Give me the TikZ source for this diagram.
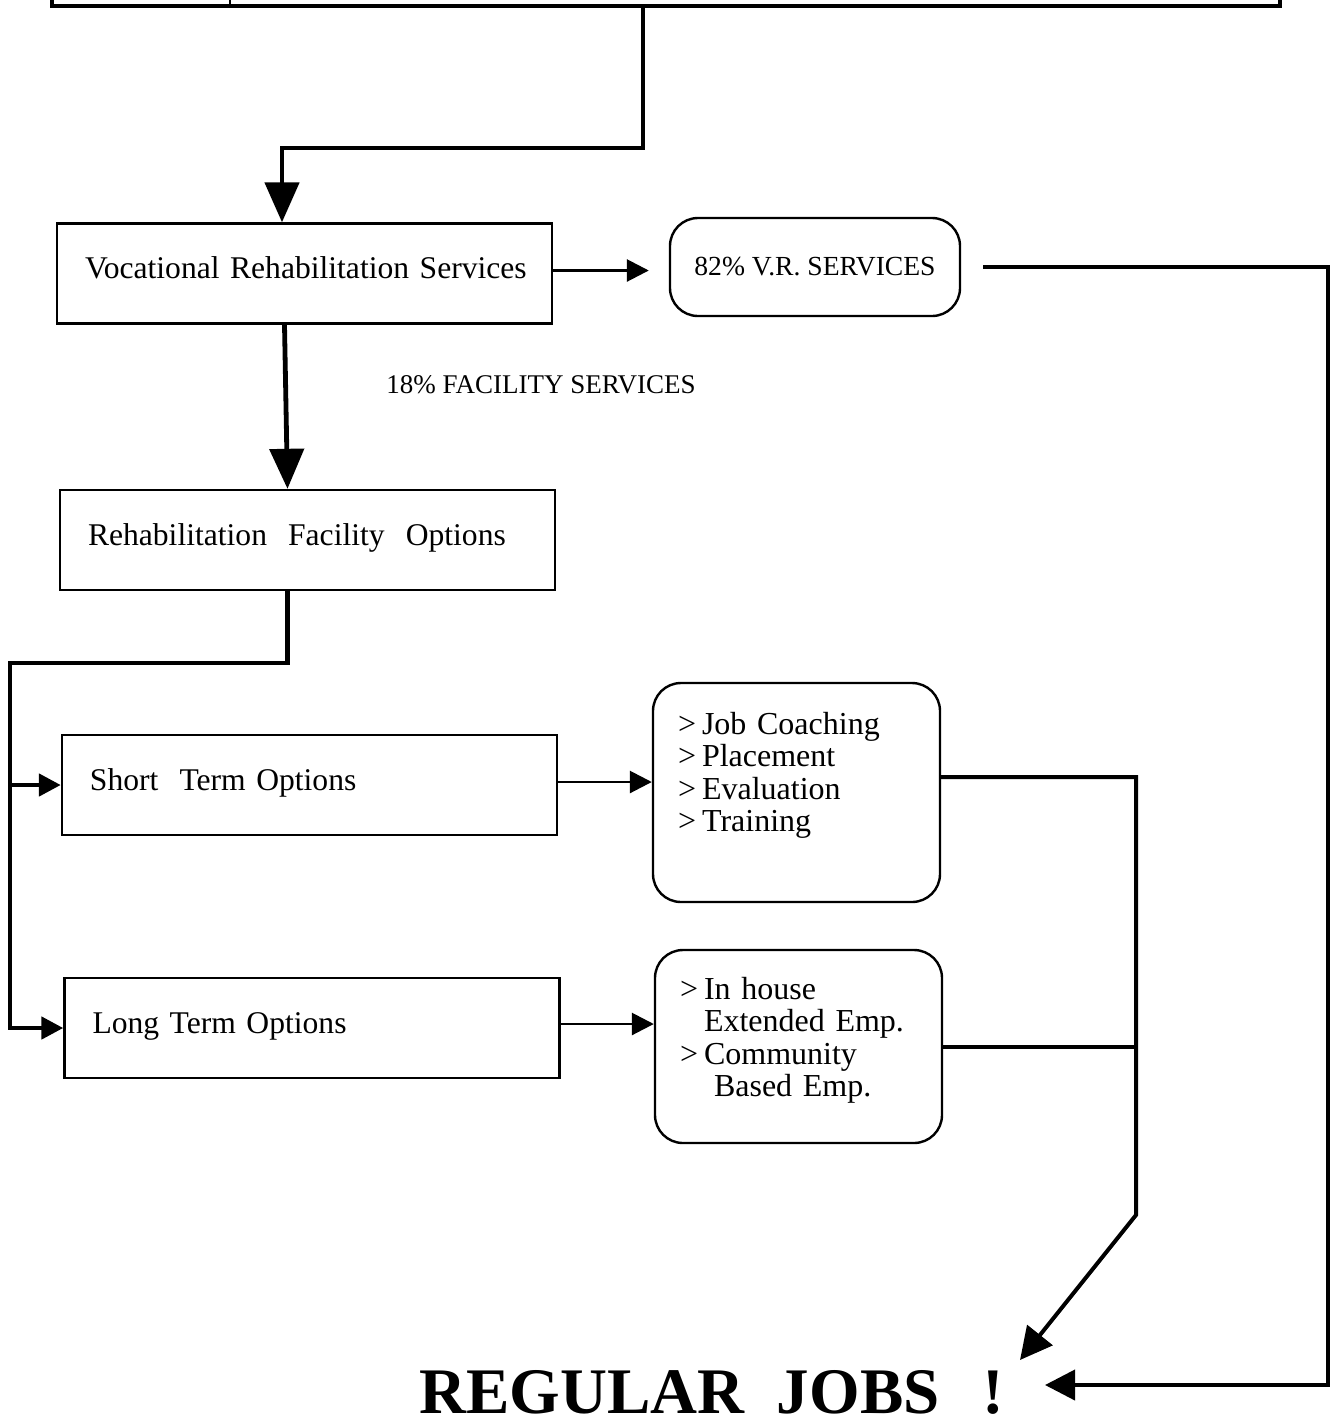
\documentclass[tikz,border=0pt]{standalone}
\usepackage{fontspec}
\setmainfont{Liberation Serif}
\usetikzlibrary{arrows.meta,positioning}

\begin{document}
\begin{tikzpicture}[x=0.5pt,y=-0.5pt,>={Triangle[length=11pt,width=11pt]},
  box/.style={draw,line width=1.2pt,minimum width=247.5pt,minimum height=50pt,text width=219.5pt,align=left,
    inner xsep=14pt,text height=11pt,text depth=6pt,font=\fontsize{15.8}{18}\selectfont},
  rbox/.style={draw,line width=1.2pt,rounded corners=14pt,align=left},
  listfont/.style={font=\fontsize{16}{16.25}\selectfont},
  conn/.style={line width=2.4pt},
  bigtip/.style={-{Triangle[length=20pt,width=17pt]}}]
\useasboundingbox (0,0) rectangle (1340,1426);

\node[draw,line width=2pt,minimum width=614pt,minimum height=40pt,anchor=south west] (prev) at (50,8) {};
\draw[line width=1.2pt] (prev.south -| 230,0) -- (prev.north -| 230,0);

\node[box] (vr) at (304.5,273.5) {\mbox{Vocational Rehabilitation Services}};
\node[rbox,minimum width=145pt,minimum height=49pt,font=\fontsize{13.8}{15}\selectfont] (vrpct) at (815,267) {82\% V.R. SERVICES};
\node[font=\fontsize{13.5}{15}\selectfont] (facility) at (541,385) {18\% FACILITY SERVICES};
\node[box] (rfo) at (307.5,540) {Rehabilitation\ \ Facility\ \ Options};
\node[box] (short) at (309.5,785) {Short\ \ Term Options};
\node[box] (long) at (312,1028) {Long Term Options};
\node[rbox,listfont,minimum width=143.5pt,minimum height=109.5pt,text width=118.5pt,inner xsep=12.5pt] (coach) at (796.5,792.5)
  {>\hspace{3pt}Job Coaching\\>\hspace{3pt}Placement\\>\hspace{3pt}Evaluation\\>\hspace{3pt}Training\rule[-20.5pt]{0pt}{20.5pt}};
\node[rbox,listfont,minimum width=143.5pt,minimum height=96.5pt,text width=118.5pt,inner xsep=12.5pt] (emp) at (798.5,1046.5)
  {>\hspace{3pt}In house\\\hspace*{12pt}Extended Emp.\\>\hspace{3pt}Community\\\hspace*{17pt}Based Emp.\rule[-9.5pt]{0pt}{9.5pt}};
\node[font=\fontsize{32.5}{36}\selectfont\bfseries] (jobs) at (712,1392) {REGULAR\ \ JOBS\ \ \,!};

\coordinate (bend) at (643,148);
\coordinate (edge) at (1328,0);
\coordinate (jobsin) at (1045,1385);
\coordinate (split) at (10,663);
\coordinate (merge) at (1136,1215);
\coordinate (jobstip) at (1020,1360);

\draw[conn,bigtip] (prev.south -| bend) -- (bend) -| ([xshift=-11.25pt]vr.north);
\draw[line width=1.4pt,->,shorten >=10pt] ([yshift=1.5pt]vr.east) -- ([yshift=1.5pt]vr.east -| vrpct.west);
\draw[line width=2pt,-{Triangle[length=15pt,width=15pt]}] ([xshift=11pt]vrpct.east) -| (edge |- jobsin) -- (jobsin);
\draw[conn,bigtip] ([xshift=-10pt]vr.south) -- ([xshift=-10pt]rfo.north);
\draw[conn,->] ([xshift=-10pt]rfo.south) |- (split) |- (long.west);
\draw[conn,->] (split |- short.west) -- (short.west);
\draw[line width=1.4pt,->] ([yshift=1.5pt]short.east) -- ([yshift=1.5pt]short.east -| coach.west);
\draw[line width=1.4pt,->] ([yshift=2pt]long.east) -- ([yshift=2pt]long.east -| emp.west);
\draw[line width=2pt,-{Triangle[length=16pt,width=16pt]}] ([yshift=7.75pt]coach.east) -| (merge) -- (jobstip);
\draw[line width=2pt] (emp.east) -- (emp.east -| merge);
\end{tikzpicture}
\end{document}
